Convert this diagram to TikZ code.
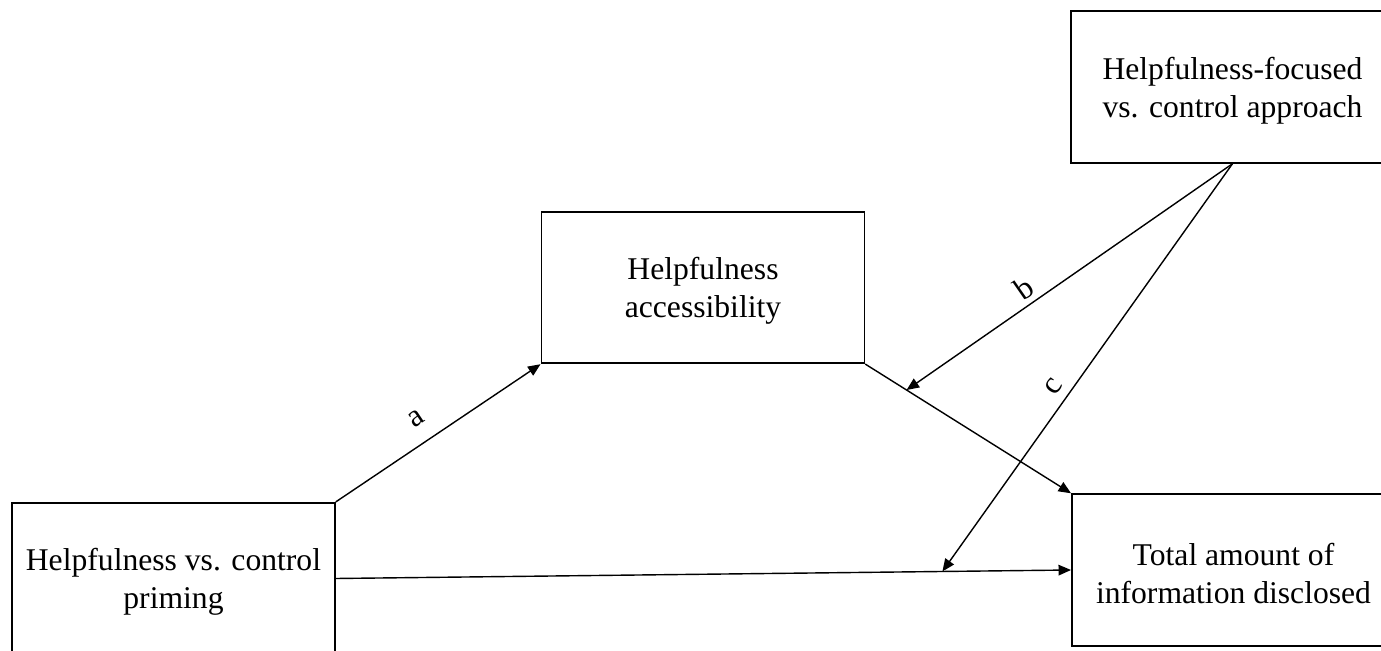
\documentclass[tikz,border=0pt]{standalone}
\usepackage{fontspec}
\setmainfont{Liberation Serif}
\usetikzlibrary{arrows.meta,calc}

\newcommand{\topgap}{\rule{0pt}{16.8pt}}
\tikzset{
  varbox/.style={draw,line width=1.1pt,minimum width=6.46cm,minimum height=3.03cm,align=center,inner sep=0pt},
  link/.style={line width=0.8pt,->},
  lbl/.style={sloped,inner sep=2pt}
}

\begin{document}
\begin{tikzpicture}[>={Triangle[length=2.5mm,width=2.1mm]},font=\fontsize{18}{21.8}\selectfont,line cap=round]
\useasboundingbox (0,0) rectangle (27.62,13.02);
\clip (0,0) rectangle (27.62,13.02);
\node[varbox] (prime) at (3.47,1.45) {\topgap Helpfulness vs. control\\priming};
\node[varbox] (access) at (14.06,7.27) {\topgap Helpfulness\\accessibility};
\node[varbox] (approach) at (24.65,11.28) {\topgap Helpfulness-focused\\vs. control approach};
\node[varbox] (disclose) at (24.67,1.62) {\topgap Total amount of\\information disclosed};
\coordinate (bhit) at ($(access.south east)!0.2!(disclose.north west)$);
\coordinate (chit) at ($(prime.east)!0.825!(disclose.west)$);
\draw[link] (prime.north east) -- node[lbl,pos=0.46,above=7pt]{a} (access.south west);
\draw[link] (access.south east) -- (disclose.north west);
\draw[link] (prime.east) -- (disclose.west);
\draw[link] (approach.south) -- node[lbl,pos=0.61,above=1pt]{b} (bhit);
\draw[link] (approach.south) -- node[lbl,pos=0.57,above=3pt]{c} (chit);
\end{tikzpicture}
\end{document}
